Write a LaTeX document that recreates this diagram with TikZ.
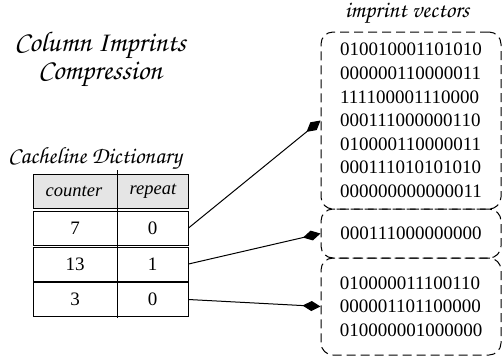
\documentclass[tikz,border=0pt]{standalone}
\usepackage{fontspec}
\setmainfont{Liberation Serif}
\newfontfamily\chancery{texgyrechorus-mediumitalic.otf}
\usetikzlibrary{arrows.meta}

\tikzset{
  titletext/.style={inner sep=0pt, font=\chancery\fontsize{28.5}{32}\selectfont},
  labeltext/.style={inner sep=0pt, font=\chancery\fontsize{23.5}{26}\selectfont},
  rowbox/.style={draw, line width=1pt, minimum width=155pt, minimum height=34pt, inner sep=0pt},
  celltext/.style={inner sep=0pt, font=\fontsize{19}{22}\selectfont},
  headtext/.style={inner sep=0pt, font=\itshape\fontsize{18.5}{22}\selectfont},
  vecbox/.style={draw, line width=1pt, dash pattern=on 9pt off 5pt, rounded corners=12pt,
    minimum width=180pt, align=left, inner sep=0pt,
    font=\fontsize{19}{23.6}\selectfont},
  link/.style={line width=1pt, -{Diamond[length=18pt,width=10pt]}}
}

\begin{document}
\begin{tikzpicture}[x=1pt,y=-1pt]
\useasboundingbox (0,0) rectangle (502,360);

% headings
\node[titletext] (title1) at (100,45) {Column Imprints};
\node[titletext] (title2) at (100,74) {Compression};
\node[labeltext] (dictlabel) at (95,158) {Cacheline Dictionary};
\node[labeltext] (veclabel) at (407,13) {imprint vectors};

% dictionary table
\node[rowbox, fill=black!10] (head) at (110.5,191) {};
\node[rowbox] (row1) at (110.5,228) {};
\node[rowbox] (row2) at (110.5,264) {};
\node[rowbox] (row3) at (110.5,299.5) {};
\draw[line width=1pt] (117,170) -- (117,318);

\node[headtext] (hcounter) at (74,191) {counter};
\node[headtext] (hrepeat) at (153,191) {repeat};
\node[celltext] (c1) at (75,228) {7};
\node[celltext] (r1) at (152.5,228) {0};
\node[celltext] (c2) at (75,264) {13};
\node[celltext] (r2) at (152.5,264) {1};
\node[celltext] (c3) at (75,299.5) {3};
\node[celltext] (r3) at (152.5,299.5) {0};

% imprint vector groups
\node[vecbox, minimum height=177pt] (vec1) at (411,120.5) {%
010010001101010\\000000110000011\\111100001110000\\000111000000110\\%
010000110000011\\000111010101010\\000000000000011};
\node[vecbox, minimum height=49pt] (vec2) at (411,233.5) {000111000000000};
\node[vecbox, minimum height=97pt] (vec3) at (411,306.5) {%
010000011100110\\000001101100000\\010000001000000};

% dictionary entries point to their vectors
\draw[link] (row1.east) -- (vec1.west);
\draw[link] (row2.east) -- (vec2.west);
\draw[link] (row3.east) -- (vec3.west);
\end{tikzpicture}
\end{document}
